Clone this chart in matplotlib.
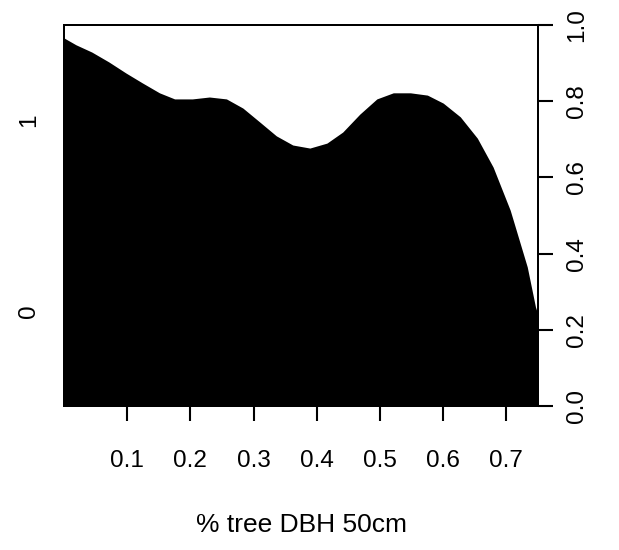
import matplotlib.pyplot as plt
import numpy as np

plt.rcParams['font.family'] = ['Liberation Sans', 'DejaVu Sans']

# boundary of the conditional density (share of level "0")
x = [0.0, 0.019, 0.044, 0.071, 0.098, 0.124, 0.151, 0.175, 0.203, 0.230,
     0.257, 0.283, 0.310, 0.336, 0.362, 0.389, 0.416, 0.441, 0.468, 0.495,
     0.521, 0.548, 0.575, 0.600, 0.627, 0.654, 0.679, 0.706, 0.733, 0.746, 0.75]
p = [0.966, 0.948, 0.929, 0.903, 0.874, 0.848, 0.822, 0.806, 0.806, 0.811,
     0.806, 0.782, 0.745, 0.709, 0.685, 0.677, 0.690, 0.719, 0.766, 0.806,
     0.822, 0.822, 0.816, 0.795, 0.759, 0.703, 0.627, 0.514, 0.365, 0.260, 0.24]

xticks = [0.1, 0.2, 0.3, 0.4, 0.5, 0.6, 0.7]
right_ticks = [0.0, 0.2, 0.4, 0.6, 0.8, 1.0]
levels = ["0", "1"]
level_pos = [0.25, 0.75]

fs = 17.5

fig = plt.figure(figsize=(6.19, 5.5), dpi=100)
ax = fig.add_axes([64 / 619, 1 - 406 / 550, (538 - 64) / 619, (406 - 25) / 550])

ax.fill_between(x, 0, p, color="black", lw=0)
ax.set_xlim(x[0], x[-1])
ax.set_ylim(0, 1)

for s in ax.spines.values():
    s.set_linewidth(1.4)

ax.set_xticks(xticks)
ax.set_xticklabels([str(t) for t in xticks])
ax.tick_params(axis="x", length=11, width=1.5, pad=21, labelsize=fs)

ax.set_yticks(level_pos)
ax.set_yticklabels(levels, rotation=90, va="center")
ax.tick_params(axis="y", left=True, length=0, pad=17, labelsize=fs)

ax2 = ax.twinx()
ax2.set_ylim(0, 1)
ax2.set_yticks(right_ticks)
ax2.set_yticklabels(["%.1f" % t for t in right_ticks], rotation=90, va="center")
ax2.tick_params(axis="y", length=11, width=1.5, pad=9, labelsize=fs)
for s in ax2.spines.values():
    s.set_linewidth(1.4)

ax.set_xlabel("% tree DBH 50cm", fontsize=19, labelpad=29)

fig.savefig("out.png", dpi=100)
